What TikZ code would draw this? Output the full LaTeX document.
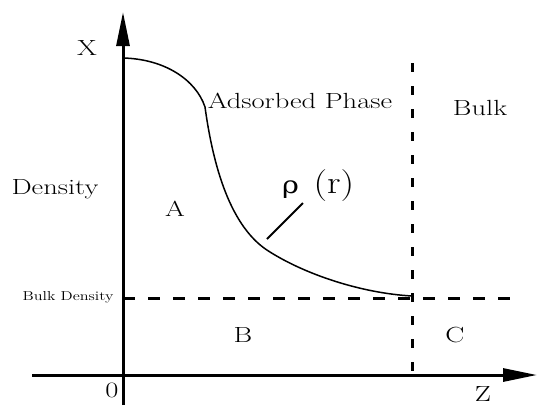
\documentclass[tikz,border=0pt]{standalone}
\usepackage{fontspec}
\newfontfamily\grfont{DejaVu Serif}
\usetikzlibrary{arrows.meta}
\tikzset{
  lbl/.style={font=\fontsize{22}{25}\selectfont, xscale=1.3, transform shape, inner sep=0pt, anchor=base},
  small/.style={font=\fontsize{13}{15}\selectfont, xscale=1.25, transform shape, inner sep=0pt, anchor=base},
  rholbl/.style={font=\fontsize{32}{36}\selectfont, xscale=1.2, transform shape, inner sep=0pt, anchor=base west},
  axis/.style={line width=3bp, -{Triangle[length=34bp,width=13bp]}},
  hdash/.style={line width=3bp, dash pattern=on 12bp off 13bp},
  vdash/.style={line width=3bp, dash pattern=on 9bp off 14bp},
  curve/.style={line width=1.5bp},
  pointer/.style={line width=2bp}
}
\begin{document}
\begin{tikzpicture}[x=1bp,y=-1bp]
\useasboundingbox (0,0) rectangle (537,405);
% axes
\coordinate (yb) at (123,405);
\coordinate (yt) at (123,12);
\coordinate (xl) at (32,375);
\coordinate (xr) at (537,375);
\draw[axis] (yb) -- (yt);
\draw[axis] (xl) -- (xr);
% dashed lines
\coordinate (hl) at (123,298);
\coordinate (hr) at (512,298);
\coordinate (vt) at (412,63);
\coordinate (vb) at (412,378);
\draw[hdash] (hl) -- (hr);
\draw[vdash] (vt) -- (vb);
% density curve
\coordinate (c0) at (123,58);
\coordinate (c1) at (205,107);
\coordinate (c2) at (270,252);
\coordinate (c3) at (412,296);
\draw[curve] (c0) .. controls (165,59) and (196,80) .. (c1)
  .. controls (213,165) and (230,228) .. (c2)
  .. controls (305,274) and (360,293) .. (c3);
% pointer
\coordinate (p0) at (267,239);
\coordinate (p1) at (303,203);
\draw[pointer] (p0) -- (p1);
% labels
\node[lbl] (X) at (87,55) {X};
\node[lbl] (dens) at (55,194) {Density};
\node[small] (bd) at (68,300) {Bulk Density};
\node[lbl] (zero) at (112,397) {0};
\node[lbl] (Z) at (483,401) {Z};
\node[lbl] (A) at (175,216) {A};
\node[lbl] (B) at (243,342) {B};
\node[lbl] (C) at (455,342) {C};
\node[lbl] (ads) at (300,108) {Adsorbed Phase};
\node[lbl] (bulk) at (480,115) {Bulk};
\node[rholbl] (rho) at (282,193) {{\grfont\fontsize{24}{28}\selectfont ρ}\hspace{12bp}(r)};
\end{tikzpicture}
\end{document}
